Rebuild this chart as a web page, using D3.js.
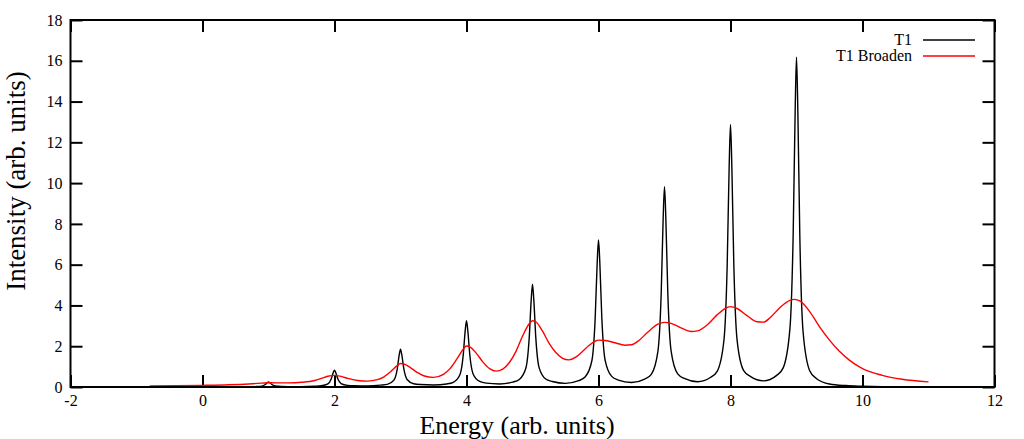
<!DOCTYPE html>
<html><head><meta charset="utf-8">
<script src="https://cdn.jsdelivr.net/npm/d3@7/dist/d3.min.js"></script>
<style>
html,body{margin:0;padding:0;background:#fff;}
svg{display:block;}
text{font-family:"Liberation Serif","Times New Roman",serif;fill:#000;}
</style></head>
<body>
<svg id="chart" width="1024" height="439"></svg>
<script>
// ---- data ----
const xTicks = [-2, 0, 2, 4, 6, 8, 10, 12];
const yTicks = [0, 2, 4, 6, 8, 10, 12, 14, 16, 18];
const seriesNames = ["T1", "T1 Broaden"];
const xLabel = "Energy (arb. units)";
const yLabel = "Intensity (arb. units)";

// T1 (sharp peaks)
const t1X = [
  0, 0.5, 0.7, 0.8, 0.9, 0.95, 0.98, 1, 1.02, 1.05, 1.1, 1.2, 1.3, 1.5,
  1.7, 1.8, 1.9, 1.95, 1.98, 2, 2.02, 2.05, 2.1, 2.2, 2.3, 2.5,
  2.7, 2.8, 2.9, 2.95, 2.98, 3, 3.02, 3.05, 3.1, 3.2, 3.3, 3.5,
  3.7, 3.8, 3.9, 3.95, 3.98, 4, 4.02, 4.05, 4.1, 4.2, 4.3, 4.5,
  4.7, 4.8, 4.9, 4.95, 4.98, 5, 5.02, 5.05, 5.1, 5.2, 5.3, 5.5,
  5.7, 5.8, 5.9, 5.95, 5.98, 6, 6.02, 6.05, 6.1, 6.2, 6.3, 6.5,
  6.7, 6.8, 6.9, 6.95, 6.98, 7, 7.02, 7.05, 7.1, 7.2, 7.3, 7.5,
  7.7, 7.8, 7.9, 7.95, 7.98, 8, 8.02, 8.05, 8.1, 8.2, 8.3, 8.5,
  8.7, 8.8, 8.9, 8.95, 8.98, 9, 9.02, 9.05, 9.1, 9.2, 9.3, 9.5, 9.75, 10, 10.3
];
const t1Y = [
  0.003, 0.006, 0.01, 0.02, 0.045, 0.12, 0.21, 0.25, 0.21, 0.12, 0.05, 0.025, 0.02, 0.02,
  0.04, 0.06, 0.15, 0.39, 0.7, 0.83, 0.7, 0.4, 0.17, 0.08, 0.06, 0.05,
  0.09, 0.13, 0.34, 0.87, 1.56, 1.85, 1.57, 0.9, 0.37, 0.16, 0.12, 0.1,
  0.15, 0.23, 0.6, 1.55, 2.75, 3.25, 2.76, 1.58, 0.64, 0.27, 0.19, 0.15,
  0.24, 0.37, 0.93, 2.4, 4.25, 5.04, 4.26, 2.42, 0.95, 0.39, 0.27, 0.18,
  0.31, 0.5, 1.3, 3.4, 6.08, 7.21, 6.1, 3.42, 1.32, 0.52, 0.34, 0.22,
  0.39, 0.62, 1.75, 4.6, 8.3, 9.82, 8.3, 4.62, 1.77, 0.64, 0.42, 0.26,
  0.48, 0.78, 2.28, 6.0, 10.85, 12.88, 10.86, 6.05, 2.3, 0.8, 0.52, 0.3,
  0.57, 0.95, 2.85, 7.55, 13.6, 16.17, 13.6, 7.45, 2.7, 0.8, 0.42, 0.15, 0.07, 0.04, 0.02
];

// T1 Broaden
const brX = [
  -0.8, -0.4, 0, 0.4, 0.7, 0.9, 1.0, 1.1, 1.3, 1.5, 1.7, 1.8, 1.9, 2.0, 2.1, 2.2, 2.35, 2.5,
  2.65, 2.75, 2.85, 2.95, 3.0, 3.05, 3.15, 3.25, 3.35, 3.5, 3.65, 3.75, 3.85, 3.95, 4.0, 4.05,
  4.15, 4.25, 4.35, 4.45, 4.55, 4.65, 4.75, 4.85, 4.95, 5.0, 5.05, 5.15, 5.25, 5.35, 5.45, 5.55,
  5.65, 5.75, 5.85, 5.95, 6.0, 6.1, 6.25, 6.4, 6.5, 6.6, 6.75, 6.9, 7.0, 7.1, 7.25, 7.4, 7.5,
  7.65, 7.8, 7.95, 8.0, 8.1, 8.25, 8.4, 8.5, 8.6, 8.75, 8.9, 8.97, 9.05, 9.2, 9.35, 9.5, 9.65,
  9.8, 10.0, 10.3, 10.6, 11.0
];
const brY = [
  0.05, 0.06, 0.08, 0.11, 0.15, 0.19, 0.21, 0.2, 0.2, 0.23, 0.32, 0.42, 0.53, 0.57, 0.52, 0.42, 0.32, 0.29,
  0.36, 0.5, 0.75, 1.05, 1.15, 1.13, 0.95, 0.72, 0.55, 0.47, 0.62, 0.9, 1.35, 1.85, 2.01, 1.97,
  1.65, 1.22, 0.9, 0.78, 0.88, 1.2, 1.75, 2.5, 3.1, 3.25, 3.2, 2.75, 2.15, 1.7, 1.42, 1.33,
  1.45, 1.72, 2.02, 2.25, 2.3, 2.28, 2.17, 2.05, 2.07, 2.25, 2.7, 3.08, 3.17, 3.12, 2.9, 2.72, 2.75,
  3.05, 3.55, 3.9, 3.94, 3.85, 3.5, 3.2, 3.18, 3.4, 3.9, 4.25, 4.3, 4.22, 3.7, 2.95, 2.3, 1.75,
  1.32, 0.9, 0.57, 0.38, 0.25
];

// ---- drawing ----
const W = 1024, H = 439;
const m = {left: 70.5, right: 29.5, top: 20, bottom: 52};
const iw = W - m.left - m.right, ih = H - m.top - m.bottom;
const serif = "'Liberation Serif','Times New Roman',serif";

const svg = d3.select("#chart");
const g = svg.append("g").attr("transform", `translate(${m.left},${m.top})`);

const x = d3.scaleLinear().domain([-2, 12]).range([0, iw]);
const y = d3.scaleLinear().domain([0, 18]).range([ih, 0]);

const tickLen = 12;
const fmt = d => String(d);
function styleAxis(sel) {
  sel.attr("font-family", serif).attr("font-size", 16);
  sel.select(".domain").remove();
  sel.selectAll(".tick line").attr("stroke", "#000").attr("stroke-width", 2);
  sel.selectAll(".tick text").attr("fill", "#000").style("font-family", serif);
}

g.append("g").attr("transform", `translate(0,${ih})`)
  .call(d3.axisBottom(x).tickValues(xTicks).tickSize(-tickLen).tickPadding(8).tickFormat(fmt))
  .call(styleAxis);
g.append("g")
  .call(d3.axisTop(x).tickValues(xTicks).tickSize(-tickLen).tickFormat(""))
  .call(styleAxis);
g.append("g")
  .call(d3.axisLeft(y).tickValues(yTicks).tickSize(-tickLen).tickPadding(8).tickFormat(fmt))
  .call(styleAxis);
g.append("g").attr("transform", `translate(${iw},0)`)
  .call(d3.axisRight(y).tickValues(yTicks).tickSize(-tickLen).tickFormat(""))
  .call(styleAxis);

// lines
const line = d3.line().x(d => x(d[0])).y(d => y(d[1])).curve(d3.curveMonotoneX);
const t1Data = t1X.map((v, i) => [v, t1Y[i]]);
const brData = brX.map((v, i) => [v, brY[i]]);

g.append("path").datum(t1Data).attr("d", line)
  .attr("fill", "none").attr("stroke", "#000").attr("stroke-width", 1.4)
  .attr("stroke-linejoin", "round");
g.append("path").datum(brData).attr("d", line)
  .attr("fill", "none").attr("stroke", "#ff0000").attr("stroke-width", 1.4);

// border
g.append("rect").attr("x", 0).attr("y", 0).attr("width", iw).attr("height", ih)
  .attr("fill", "none").attr("stroke", "#000").attr("stroke-width", 2);

// legend
const legColors = ["#000", "#ff0000"];
const leg = svg.append("g");
seriesNames.forEach((name, i) => {
  const ly = 40 + i * 16;
  leg.append("text").attr("x", 912).attr("y", ly + 5).attr("text-anchor", "end")
    .style("font-size", "16px").text(name);
  leg.append("line").attr("x1", 923).attr("x2", 975).attr("y1", ly).attr("y2", ly)
    .attr("stroke", legColors[i]).attr("stroke-width", 1.4);
});

// axis labels
svg.append("text").attr("x", 517).attr("y", 434).attr("text-anchor", "middle")
  .style("font-size", "26px").text(xLabel);
svg.append("text").attr("transform", `translate(25,181) rotate(-90)`)
  .attr("text-anchor", "middle").style("font-size", "27px").text(yLabel);
</script>
</body></html>
